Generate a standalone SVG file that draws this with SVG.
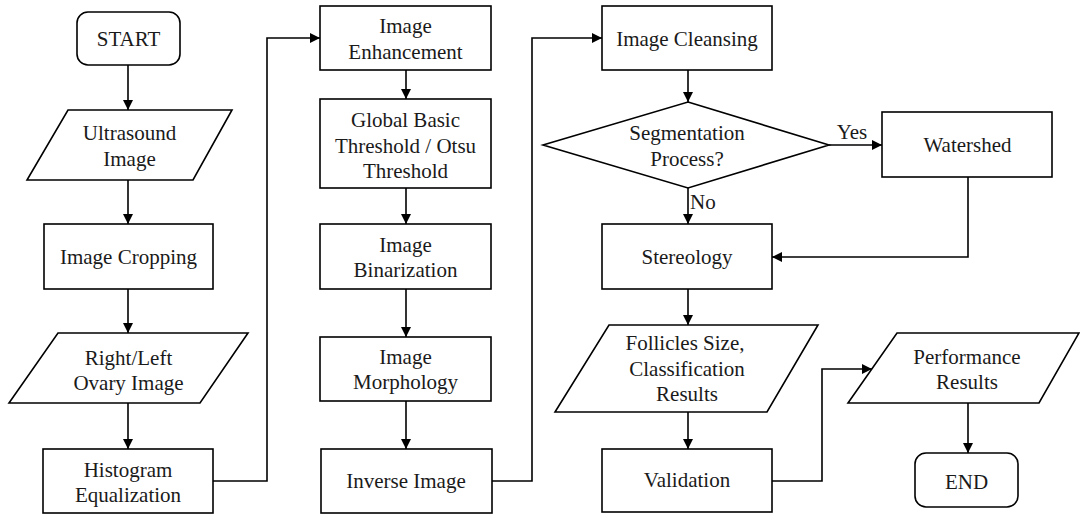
<svg xmlns="http://www.w3.org/2000/svg" width="1080" height="515" viewBox="0 0 1080 515">
<defs>
<marker id="ah" markerUnits="userSpaceOnUse" markerWidth="10" markerHeight="10" refX="10" refY="5" orient="auto">
<path d="M0,0 L10,5 L0,10 z" fill="#000"/>
</marker>
<style>
.s{fill:#fff;stroke:#000;stroke-width:1.6}
.t{font-family:'Liberation Serif','Times New Roman','DejaVu Serif',serif;font-size:21px;fill:#1a1a1a;text-anchor:middle}
.c{fill:none;stroke:#000;stroke-width:1.6;marker-end:url(#ah)}
</style>
</defs>
<rect width="1080" height="515" fill="#fff"/>
<g id="connectors" font-family="Liberation Serif, serif">
<line class="c" x1="128" y1="65" x2="128" y2="110"/>
<line class="c" x1="128" y1="180" x2="128" y2="224"/>
<line class="c" x1="128" y1="289" x2="128" y2="333"/>
<line class="c" x1="128" y1="403" x2="128" y2="449"/>
<polyline class="c" points="213,481 267,481 267,38 320,38"/>
<line class="c" x1="406" y1="70" x2="406" y2="99"/>
<line class="c" x1="406" y1="188" x2="406" y2="224"/>
<line class="c" x1="406" y1="289" x2="406" y2="337"/>
<line class="c" x1="406" y1="401" x2="406" y2="449"/>
<polyline class="c" points="492,481 532,481 532,38 602,38"/>
<line class="c" x1="688" y1="70" x2="688" y2="102"/>
<line class="c" x1="829" y1="145" x2="882" y2="145"/>
<line class="c" x1="688" y1="188" x2="688" y2="224"/>
<polyline class="c" points="968,177 968,257 772,257"/>
<line class="c" x1="688" y1="289" x2="688" y2="325"/>
<line class="c" x1="688" y1="412" x2="688" y2="449"/>
<polyline class="c" points="772,481 822,481 822,369 872,369"/>
<line class="c" x1="968" y1="403" x2="968" y2="453"/>
<text class="t" x="852" y="139">Yes</text>
<text class="t" x="690" y="209" style="text-anchor:start">No</text>
</g>
<g font-family="Liberation Serif, serif">
<g id="start"><rect class="s" x="77" y="12" width="103" height="53" rx="11"/><text class="t" x="128.5" y="46">START</text></g>
<g id="ultrasound"><polygon class="s" points="68,110 232,110 193,180 27,180"/><text class="t" x="129.5" y="140">Ultrasound</text><text class="t" x="129.5" y="166">Image</text></g>
<g id="cropping"><rect class="s" x="44" y="224" width="169" height="65"/><text class="t" x="128.5" y="264">Image Cropping</text></g>
<g id="ovary"><polygon class="s" points="58,333 248,333 200,403 9,403"/><text class="t" x="128.5" y="365">Right/Left</text><text class="t" x="128.5" y="390">Ovary Image</text></g>
<g id="histogram"><rect class="s" x="43" y="449" width="170" height="64"/><text class="t" x="128" y="477">Histogram</text><text class="t" x="128" y="502">Equalization</text></g>
<g id="enhancement"><rect class="s" x="320" y="6" width="171" height="64"/><text class="t" x="405.5" y="33">Image</text><text class="t" x="405.5" y="59">Enhancement</text></g>
<g id="threshold"><rect class="s" x="320" y="99" width="171" height="89"/><text class="t" x="405.5" y="127">Global Basic</text><text class="t" x="405.5" y="153">Threshold / Otsu</text><text class="t" x="405.5" y="178">Threshold</text></g>
<g id="binarization"><rect class="s" x="320" y="224" width="171" height="65"/><text class="t" x="405.5" y="252">Image</text><text class="t" x="405.5" y="277">Binarization</text></g>
<g id="morphology"><rect class="s" x="320" y="337" width="171" height="64"/><text class="t" x="405.5" y="364">Image</text><text class="t" x="405.5" y="389">Morphology</text></g>
<g id="inverse"><rect class="s" x="321" y="449" width="171" height="64"/><text class="t" x="406" y="488">Inverse Image</text></g>
<g id="cleansing"><rect class="s" x="602" y="6" width="170" height="64"/><text class="t" x="687" y="46">Image Cleansing</text></g>
<g id="segmentation"><polygon class="s" points="688,102 829,145 688,188 543,145"/><text class="t" x="687" y="140">Segmentation</text><text class="t" x="687" y="166">Process?</text></g>
<g id="watershed"><rect class="s" x="882" y="112" width="170" height="65"/><text class="t" x="967.5" y="152">Watershed</text></g>
<g id="stereology"><rect class="s" x="602" y="224" width="170" height="65"/><text class="t" x="687" y="264">Stereology</text></g>
<g id="follicles"><polygon class="s" points="609,325 818,325 767,412 555,412"/><text class="t" x="685" y="350">Follicles  Size,</text><text class="t" x="687" y="376">Classification</text><text class="t" x="687" y="401">Results</text></g>
<g id="validation"><rect class="s" x="602" y="449" width="170" height="63"/><text class="t" x="687" y="487">Validation</text></g>
<g id="performance"><polygon class="s" points="897,333 1079,333 1039,403 848,403"/><text class="t" x="967" y="364">Performance</text><text class="t" x="967" y="389">Results</text></g>
<g id="end"><rect class="s" x="915" y="453" width="103" height="54" rx="11"/><text class="t" x="966.5" y="489">END</text></g>
</g>
</svg>
